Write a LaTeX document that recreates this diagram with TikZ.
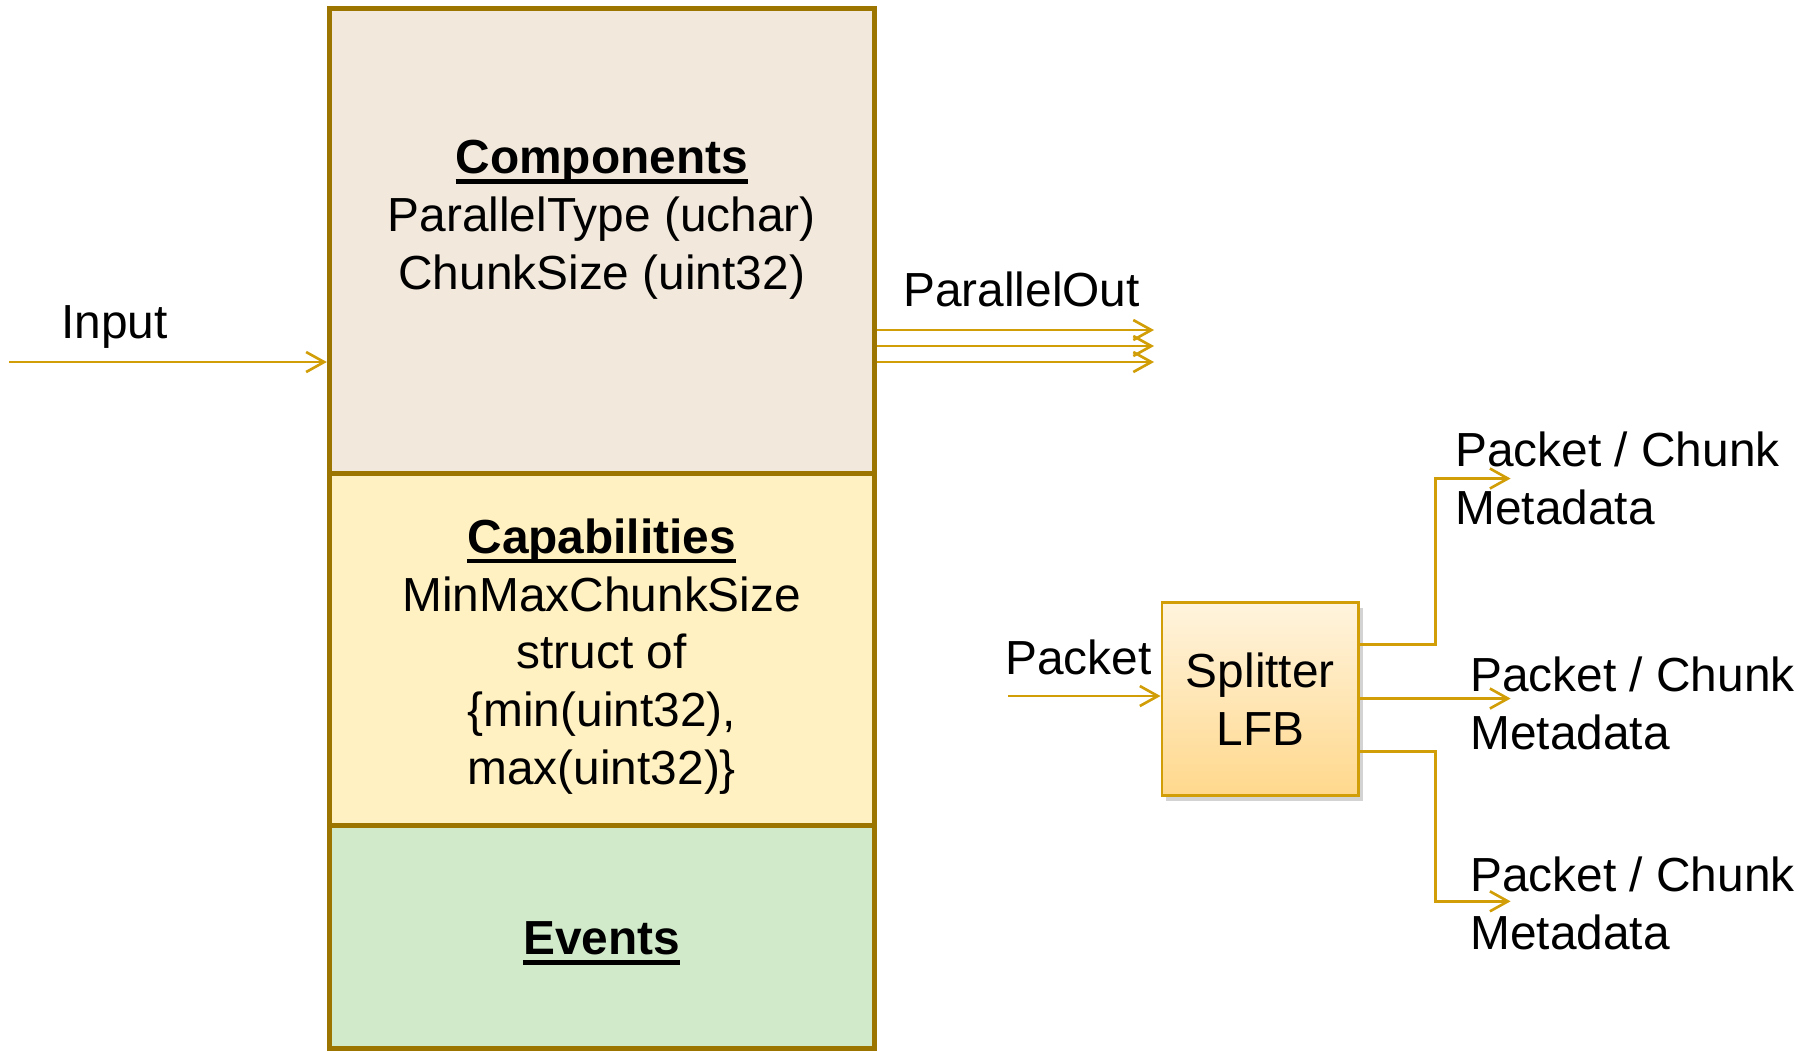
\documentclass[tikz,border=0pt]{standalone}
\usepackage{fontspec}
\setmainfont{Liberation Sans}
\usepackage{tikz}
\usetikzlibrary{arrows.meta,positioning,shadows}
\definecolor{LfbBrown}{RGB}{156,116,0}
\definecolor{LfbGold}{RGB}{209,158,8}
\definecolor{LfbTan}{RGB}{242,232,220}
\definecolor{LfbCream}{RGB}{255,241,194}
\definecolor{LfbGreen}{RGB}{209,235,202}
\definecolor{LfbPeachTop}{RGB}{255,244,222}
\definecolor{LfbPeachBot}{RGB}{255,216,140}
\newsavebox{\hdrbox}
\newcommand{\hdr}[1]{\sbox{\hdrbox}{\bfseries #1}\leavevmode\rlap{\raisebox{-2.9pt}{\rule{\wd\hdrbox}{1.4pt}}}\usebox{\hdrbox}}
\begin{document}
\begin{tikzpicture}[x=0.01cm,y=-0.01cm,
  part/.style={draw=LfbBrown,line width=1.4pt,minimum width=5.445cm,inner sep=0pt},
  txt/.style={align=center,font=\fontsize{13.6}{16.45}\selectfont,inner sep=0pt},
  lbl/.style={align=left,font=\fontsize{13.6}{16.45}\selectfont,inner sep=0pt},
  lfb/.style={draw=LfbGold,line width=0.8pt,top color=LfbPeachTop,bottom color=LfbPeachBot,
              minimum width=1.966cm,minimum height=1.93cm,align=center,inner sep=0pt,
              font=\fontsize{13.6}{16.45}\selectfont,
              drop shadow={opacity=0.35,shadow xshift=0.4mm,shadow yshift=-0.6mm}},
  arrow/.style={-{Straight Barb[length=1.8mm,width=2mm]},draw=LfbGold,line width=0.75pt}
]
\useasboundingbox (0,0) rectangle (1813,1050);

\node[part,fill=LfbTan,minimum height=4.65cm] (comp) at (601.7,241.5) {};
\node[part,fill=LfbCream,minimum height=3.516cm] (capa) at (601.7,649.8) {};
\node[part,fill=LfbGreen,minimum height=2.224cm] (evts) at (601.7,936.8) {};

\node[txt] (comptxt) at (601.7,219.6) {\hdr{Components}\\ParallelType (uchar)\\ChunkSize (uint32)};
\node[txt] (capatxt) at (601.7,656.6) {\hdr{Capabilities}\\MinMaxChunkSize\\struct of\\\{min(uint32),\\max(uint32)\}};
\node[txt] (evtstxt) at (601.7,943.6) {\hdr{Events}};

\coordinate (inp) at (9,362);
\draw[arrow] (inp) -- (inp -| comp.west);
\node[txt] (inplbl) at (114.5,326.8) {Input};

\foreach \y [count=\i] in {330,346,362}{
  \coordinate (po\i) at (1154,\y);
  \draw[arrow] (po\i -| comp.east) -- (po\i);
}
\node[txt] (polbl) at (1021.5,289) {ParallelOut};

\node[lfb] (split) at (1260.3,698.8) {Splitter\\LFB};
\coordinate (pkt) at (1008,696);
\draw[arrow] (pkt) -- (pkt -| split.west);
\node[txt] (pktlbl) at (1078.5,657) {Packet};

\coordinate (tap) at (1435.5,0);
\coordinate (out1) at (1510.6,478.5);
\coordinate (out2) at (1510.6,698.5);
\coordinate (out3) at (1510.6,901.3);
\draw[arrow] ([yshift=5.4mm]split.east) -| (tap |- out1) -- (out1);
\draw[arrow] (out2 -| split.east) -- (out2);
\draw[arrow] ([yshift=-5.25mm]split.east) -| (tap |- out3) -- (out3);

\node[lbl,anchor=west] (meta1) at (1454.6,478.7) {Packet / Chunk\\Metadata};
\node[lbl,anchor=west] (meta2) at (1469.6,703) {Packet / Chunk\\Metadata};
\node[lbl,anchor=west] (meta3) at (1469.6,903.6) {Packet / Chunk\\Metadata};
\end{tikzpicture}
\end{document}
